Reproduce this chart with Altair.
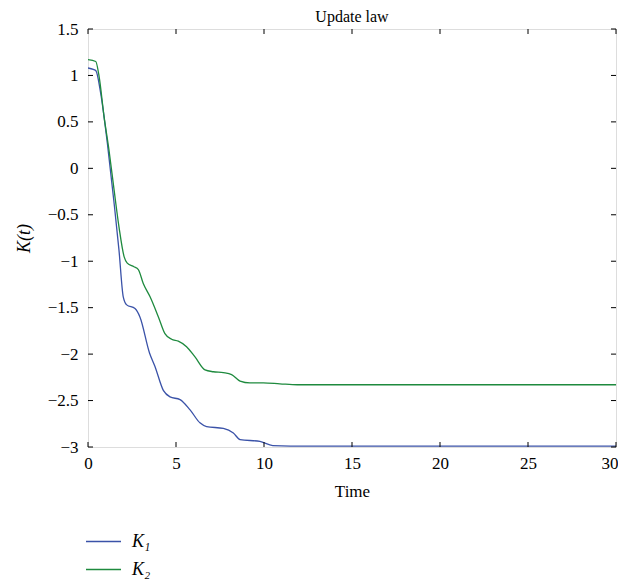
import altair as alt
import pandas as pd

# Series K1
k1_t = [0, 0.3, 0.45, 0.72, 1.1, 1.48, 1.76, 2.0, 2.2, 2.67, 2.95, 3.5, 3.8, 4.28,
        4.66, 5.23, 5.8, 6.36, 6.74, 7.69, 8.26, 8.64, 9.77, 10.5, 11.5, 15, 20, 25, 30]
k1_v = [1.08, 1.065, 1.05, 0.81, 0.27, -0.37, -0.88, -1.38, -1.47, -1.51, -1.60, -1.99,
        -2.13, -2.39, -2.46, -2.49, -2.60, -2.74, -2.78, -2.80, -2.85, -2.92, -2.94,
        -2.985, -2.99, -2.99, -2.99, -2.99, -2.99]

# Series K2
k2_t = [0, 0.44, 0.63, 0.91, 1.19, 1.48, 1.76, 2.05, 2.23, 2.61, 2.86, 3.14, 3.52, 4.0,
        4.37, 4.75, 5.13, 5.6, 6.08, 6.65, 7.12, 7.69, 8.16, 8.64, 9.2, 9.96, 10.9, 11.9,
        15, 20, 25, 30]
k2_v = [1.17, 1.15, 0.99, 0.56, 0.2, -0.23, -0.63, -0.95, -1.02, -1.06, -1.09, -1.24,
        -1.38, -1.60, -1.78, -1.84, -1.86, -1.92, -2.03, -2.17, -2.19, -2.20, -2.22,
        -2.29, -2.31, -2.31, -2.32, -2.33, -2.33, -2.33, -2.33, -2.33]

series_names = ["K\u2081", "K\u2082"]
series_colors = ["#3a52a8", "#1e8a3e"]

x_ticks = [0, 5, 10, 15, 20, 25, 30]
y_ticks = [-3, -2.5, -2, -1.5, -1, -0.5, 0, 0.5, 1, 1.5]

W, H = 528, 418
FONT = "Liberation Serif"

df = pd.concat([
    pd.DataFrame({"t": k1_t, "K": k1_v, "series": series_names[0]}),
    pd.DataFrame({"t": k2_t, "K": k2_v, "series": series_names[1]}),
])

xs = alt.Scale(domain=[0, 30], nice=False, zero=False)
ys = alt.Scale(domain=[-3, 1.5], nice=False, zero=False)

last_x = "datum.value == %d" % x_ticks[-1]

lines = alt.Chart(df).mark_line(strokeWidth=1.3, interpolate="monotone", clip=True).encode(
    x=alt.X("t:Q", scale=xs, title="Time",
            axis=alt.Axis(values=x_ticks, ticks=False, domain=False, grid=False,
                          labelFlush=False,
                          labelAlign={"condition": {"test": last_x, "value": "right"},
                                      "value": "center"},
                          labelOffset={"condition": {"test": last_x, "value": 2},
                                       "value": 0},
                          labelFont=FONT, labelFontSize=17,
                          labelColor="black", labelPadding=8, titleFont=FONT,
                          titleFontSize=17, titleFontWeight="normal", titleColor="black",
                          titlePadding=12)),
    y=alt.Y("K:Q", scale=ys, title="K(t)",
            axis=alt.Axis(values=y_ticks, format="~g", ticks=False, domain=False, grid=False,
                          labelFont=FONT, labelFontSize=17, labelColor="black",
                          labelPadding=10, titleFont=FONT, titleFontSize=18,
                          titleFontStyle="italic", titleFontWeight="normal",
                          titleColor="black", titlePadding=14)),
    color=alt.Color("series:N",
                    scale=alt.Scale(domain=series_names, range=series_colors),
                    legend=alt.Legend(title=None, orient="none", legendX=-3, legendY=494,
                                      symbolType="stroke", symbolSize=1225,
                                      symbolStrokeWidth=1.3, labelFont=FONT,
                                      labelFontSize=18, labelFontStyle="italic",
                                      labelColor="black", rowPadding=-4, labelOffset=10)),
)

xt = pd.DataFrame({"v": x_ticks})
yt = pd.DataFrame({"v": y_ticks})

xb = alt.Chart(xt).mark_rule(color="black", strokeWidth=1).encode(
    x=alt.X("v:Q", scale=xs), y=alt.value(H), y2=alt.value(H - 5))
xtp = alt.Chart(xt).mark_rule(color="black", strokeWidth=1).encode(
    x=alt.X("v:Q", scale=xs), y=alt.value(0), y2=alt.value(5))
yl = alt.Chart(yt).mark_rule(color="black", strokeWidth=1).encode(
    y=alt.Y("v:Q", scale=ys), x=alt.value(0), x2=alt.value(5))
yr = alt.Chart(yt).mark_rule(color="black", strokeWidth=1).encode(
    y=alt.Y("v:Q", scale=ys), x=alt.value(W - 5), x2=alt.value(W))

chart = alt.layer(lines, xb, xtp, yl, yr).properties(
    width=W, height=H,
    title=alt.Title("Update law", font=FONT, fontSize=16, fontWeight="normal",
                    color="black", offset=9, dy=14, frame="group", anchor="middle"),
    autosize=alt.AutoSizeParams(type="none"),
    padding={"left": 80, "top": 21, "right": 2, "bottom": 133},
).configure_view(stroke="black", strokeWidth=1.2).configure(background="white")

chart.save("out.html", embed_options={"renderer": "svg", "actions": False})
